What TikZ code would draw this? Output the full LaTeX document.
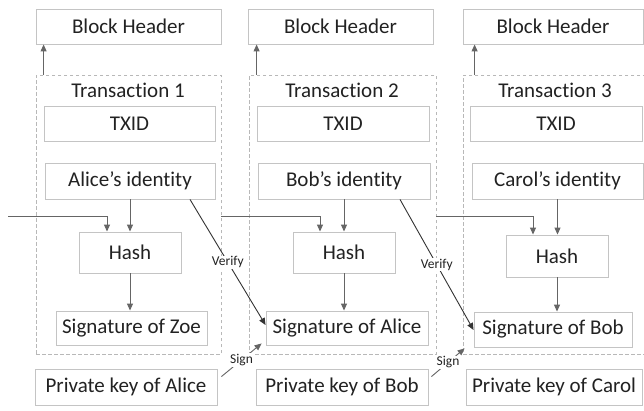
\documentclass[tikz,border=0pt]{standalone}
\usepackage{fontspec}
\setmainfont{Carlito}[Ligatures={NoCommon,NoRare}]
\usetikzlibrary{arrows.meta,shadows}

\definecolor{boxline}{HTML}{C4C4C4}
\definecolor{dashline}{HTML}{B8B8B8}
\definecolor{arrowgray}{HTML}{656565}
\definecolor{txt}{HTML}{222222}
\definecolor{darkline}{HTML}{333333}

\tikzset{
  box/.style={draw=boxline, line width=0.9pt, fill=white, inner sep=0pt,
    text=txt, font=\fontsize{21}{25}\selectfont,
    drop shadow={shadow xshift=1pt, shadow yshift=-1pt, opacity=0.18, fill=black}},
  txbox/.style={draw=dashline, line width=0.8pt, dash pattern=on 3.5pt off 2.5pt, inner sep=0pt},
  txtitle/.style={text=txt, font=\fontsize{21}{25}\selectfont, inner sep=0pt},
  arr/.style={draw=arrowgray, line width=1pt, -{Triangle[length=7pt,width=6pt]}},
  verifyarr/.style={draw=darkline, line width=0.9pt, -{Triangle[length=7pt,width=6pt]}},
  signarr/.style={draw=arrowgray, line width=0.9pt, -{Triangle[length=7pt,width=6pt]}},
  tag/.style={fill=white, inner sep=1pt, text=txt, font=\fontsize{13.5}{15}\selectfont},
}

% node from its corner coordinates: style, name, x1, y1, x2, y2, text
\newcommand{\cornerbox}[7]{%
  \node[#1, minimum width={(#5-#3)*1pt}, minimum height={(#6-#4)*1pt}]
    (#2) at ({(#3+#5)/2},{(#4+#6)/2}) {#7};}

\begin{document}
\begin{tikzpicture}[x=1pt, y=-1pt]
\useasboundingbox[fill=white] (0,0) rectangle (644,410);

% transaction frames
\cornerbox{txbox}{tx1}{36}{75}{221}{354}{}
\cornerbox{txbox}{tx2}{249}{75}{436}{354}{}
\cornerbox{txbox}{tx3}{463}{75}{646}{354}{}
\node[txtitle] (title1) at (128,90) {Transaction 1};
\node[txtitle] (title2) at (342,90) {Transaction 2};
\node[txtitle] (title3) at (555,90) {Transaction 3};

% block headers
\cornerbox{box}{bh1}{36}{9}{221}{44}{Block Header}
\cornerbox{box}{bh2}{248}{9}{433}{44}{Block Header}
\cornerbox{box}{bh3}{463}{9}{643}{44}{Block Header}

% TXID
\cornerbox{box}{id1}{44}{106}{215}{141}{TXID}
\cornerbox{box}{id2}{257}{106}{429}{141}{TXID}
\cornerbox{box}{id3}{470}{106}{642}{141}{TXID}

% identities
\cornerbox{box}{who1}{45}{163}{215}{199}{Alice’s identity}
\cornerbox{box}{who2}{258}{163}{430}{199}{Bob’s identity}
\cornerbox{box}{who3}{472}{163}{643}{199}{Carol’s identity}

% hashes
\cornerbox{box}{hash1}{79}{232}{181}{273}{Hash}
\cornerbox{box}{hash2}{293}{232}{395}{273}{Hash}
\cornerbox{box}{hash3}{506}{235}{608}{277}{Hash}

% signatures
\cornerbox{box}{sig1}{56}{311}{207}{345}{Signature of Zoe}
\cornerbox{box}{sig2}{266}{311}{428}{345}{Signature of Alice}
\cornerbox{box}{sig3}{474}{312}{632}{347}{Signature of Bob}

% private keys
\cornerbox{box}{key1}{35}{369}{217}{405}{Private key of Alice}
\cornerbox{box}{key2}{256}{369}{428}{405}{Private key of Bob}
\cornerbox{box}{key3}{466}{369}{642}{405}{Private key of Carol}

% links up to the block headers
\draw[arr] ([xshift=8pt]tx1.north west) -- ([xshift=8pt]tx1.north west |- bh1.south);
\draw[arr] ([xshift=8pt]tx2.north west) -- ([xshift=8pt]tx2.north west |- bh2.south);
\draw[arr] ([xshift=12pt]tx3.north west) -- ([xshift=12pt]tx3.north west |- bh3.south);

% identity -> hash -> signature
\draw[arr] (who1.south) -- (who1.south |- hash1.north);
\draw[arr] (who2.south) -- (who2.south |- hash2.north);
\draw[arr] (who3.south) -- (who3.south |- hash3.north);
\draw[arr] (hash1.south) -- (hash1.south |- sig1.north);
\draw[arr] (hash2.south) -- (hash2.south |- sig2.north);
\draw[arr] (hash3.south) -- (hash3.south |- sig3.north);

% previous transaction feeding each hash
\coordinate (feed1) at (8,216);
\coordinate (feed2) at (tx1.east |- feed1);
\coordinate (feed3) at (tx2.east |- feed1);
\draw[arr] (feed1) -| ([xshift=-23pt]hash1.north);
\draw[arr] (feed2) -| ([xshift=-24pt]hash2.north);
\draw[arr] (feed3) -| ([xshift=-24pt]hash3.north);

% verification
\draw[verifyarr] ([xshift=60pt]who1.south) -- ([yshift=3pt]sig2.west)
  node[tag, midway] {Verify};
\draw[verifyarr] ([xshift=56pt]who2.south) -- ([yshift=-0.5pt]sig3.west)
  node[tag, midway] {Verify};

% signing
\draw[signarr] ([xshift=4pt,yshift=-8pt]key1.north east) -- ([xshift=-4pt,yshift=2pt]sig2.south west)
  node[tag, midway] {Sign};
\draw[signarr] ([xshift=3pt,yshift=-8pt]key2.north east) -- ([xshift=2pt,yshift=6pt]tx3.south west)
  node[tag, midway] {Sign};
\end{tikzpicture}
\end{document}
